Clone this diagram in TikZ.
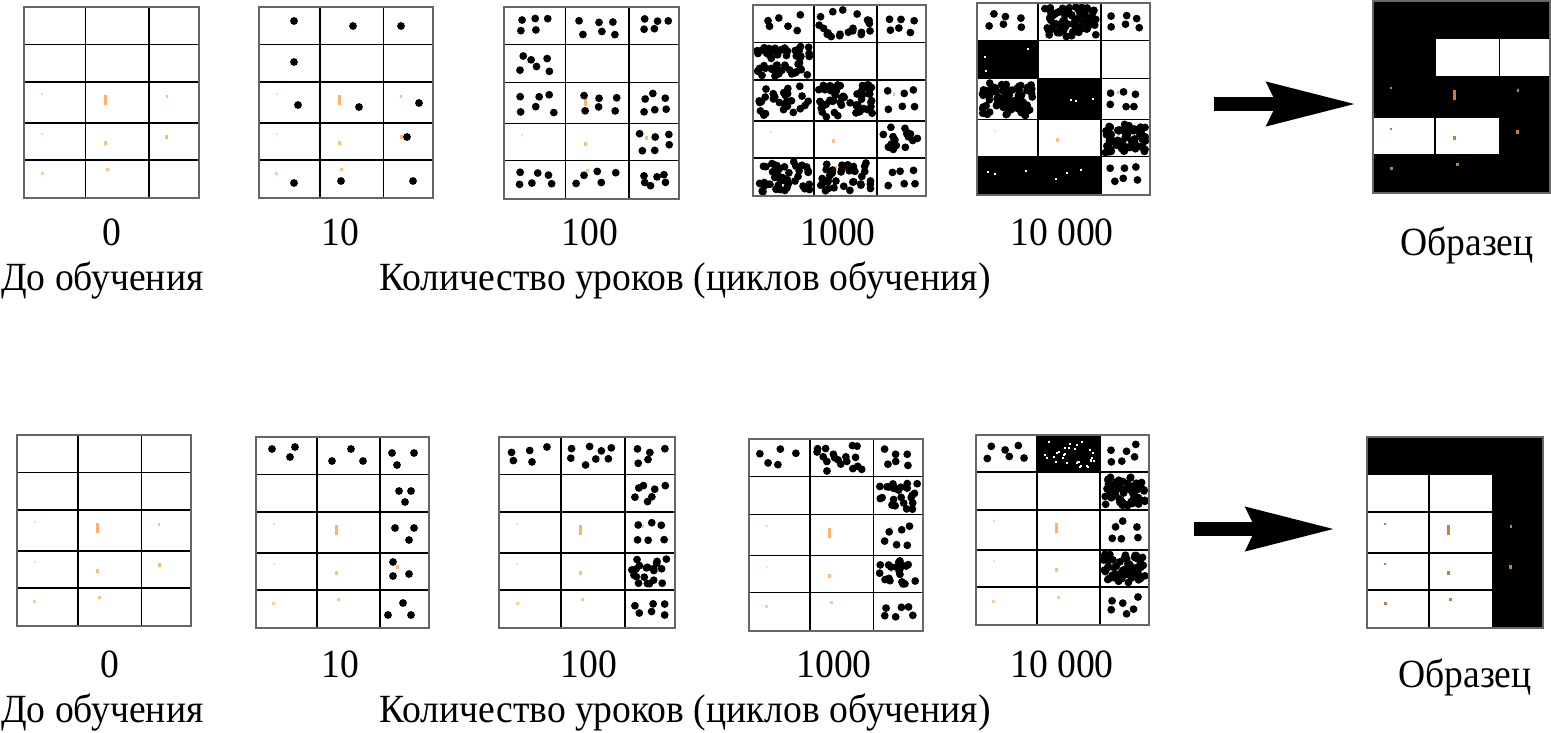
\documentclass[tikz,border=0pt]{standalone}
\usepackage{fontspec}
\setmainfont{Liberation Serif}[FakeStretch=0.94]
\usetikzlibrary{arrows.meta}

\tikzset{
  gridline/.style={black,line width=1.7pt},
  gridframe/.style={black!60,line width=2.6pt},
  lbl/.style={anchor=base,inner sep=0pt,font=\fontsize{40}{43}\selectfont},
  count/.style={lbl,text depth=0pt},
  caption/.style={lbl,text height=0.7em},
  bigarrow/.style={line width=14pt,-{Stealth[length=88pt,width=42pt,inset=9pt]}}
}

% grid origin and size, in pixels
\newcommand{\usegrid}[4]{\def\gx{#1}\def\gy{#2}\def\gw{#3}\def\gh{#4}}
\newcommand{\colfr}[1]{\ifcase\numexpr#1\relax 0\or 0.352\or 0.715\or 1\fi}
\newcommand{\rowfr}[1]{\ifcase\numexpr#1\relax 0\or 0.196\or 0.393\or 0.607\or 0.80\or 1\fi}
% bounds of cell (column, row)
\newcommand{\cellat}[2]{%
  \edef\fa{\colfr{#1-1}}\edef\fb{\colfr{#1}}%
  \edef\fc{\rowfr{#2-1}}\edef\fd{\rowfr{#2}}%
  \pgfmathsetmacro\xa{\gx+\gw*\fa}\pgfmathsetmacro\xb{\gx+\gw*\fb}%
  \pgfmathsetmacro\ya{\gy+\gh*\fc}\pgfmathsetmacro\yb{\gy+\gh*\fd}}
% n dots in the current cell, margin m (dense clusters)
\newcommand{\scatter}[2]{%
  \foreach \k in {1,...,#1}{%
    \pgfmathsetmacro\px{(\xa+\xb)/2+rand*((\xb-\xa)/2-#2)}%
    \pgfmathsetmacro\py{(\ya+\yb)/2+rand*((\yb-\ya)/2-#2)}%
    \fill (\px,\py) circle[radius=3.9pt];}}
% n dots on a jittered two-row layout (sparse cells)
\newcommand{\spread}[1]{%
  \pgfmathsetmacro\nc{ceil(#1/2)}%
  \foreach \k in {1,...,#1}{%
    \pgfmathsetmacro\px{\xa+7+(floor((\k-1)/2)+0.5+0.3*rand)*(\xb-\xa-14)/\nc}%
    \pgfmathsetmacro\py{\ya+7+(mod(\k-1,2)+0.5+0.3*rand)*(\yb-\ya-14)/2}%
    \fill (\px,\py) circle[radius=3.9pt];}}
\newcommand{\blackcell}{\fill (\xa,\ya) rectangle (\xb,\yb);}
\newcommand{\holes}[1]{%
  \foreach \k in {1,...,#1}{%
    \pgfmathsetmacro\px{(\xa+\xb)/2+rand*((\xb-\xa)/2-6)}%
    \pgfmathsetmacro\py{(\ya+\yb)/2+rand*((\yb-\ya)/2-6)}%
    \fill[white] (\px,\py) rectangle ++(2,2);}}
% faint input marks
\newcommand{\specks}[1][white]{%
  \foreach \fx/\fy/\sw/\sh/\op in {0.103/0.455/2/2/30,0.463/0.487/3/10/60,0.817/0.466/2/3/50,
      0.103/0.665/2/2/25,0.463/0.712/3/4/50,0.817/0.68/3/4/55,0.103/0.874/3/3/40,0.475/0.853/3/3/45}
    \fill[orange!\op!#1] ({\gx+\gw*\fx-\sw/2},{\gy+\gh*\fy-\sh/2}) rectangle ++(\sw,\sh);}
\newcommand{\gridlines}{%
  \foreach \f in {0.352,0.715} \draw[gridline] ({\gx+\gw*\f},\gy) -- ++(0,\gh);
  \foreach \f in {0.196,0.393,0.607,0.80} \draw[gridline] (\gx,{\gy+\gh*\f}) -- ++(\gw,0);
  \draw[gridframe] (\gx,\gy) rectangle ++(\gw,\gh);}

\begin{document}
\begin{tikzpicture}[x=1pt,y=-1pt]
\useasboundingbox (0,0) rectangle (1551,732);
\pgfmathsetseed{11}

%% top row
\usegrid{24}{7}{175}{191}
\specks \gridlines

\usegrid{259}{7}{174}{191}
\specks
\foreach \p in {(294,21),(353,26),(401,26),(294,62),(298,105),(359,107),(419,103),(407,137),(294,183),(341,181),(413,181)}
  \fill \p circle[radius=3.9pt];
\gridlines

\usegrid{504}{7}{175}{192}
\specks
\foreach \c/\r/\n in {1/1/5,2/1/6,3/1/5,1/2/6,1/3/6,2/3/6,3/3/6,3/4/6,1/5/6,2/5/5,3/5/6}
  {\cellat{\c}{\r}\spread{\n}}
\gridlines

\usegrid{753}{5}{173}{191}
\specks
\foreach \c/\r/\n in {1/1/6,3/1/6,3/3/6,3/5/6}
  {\cellat{\c}{\r}\spread{\n}}
\foreach \c/\r/\n/\m in {2/1/20/5,1/2/55/4,1/3/28/5,2/3/55/4,3/4/18/6,1/5/50/4,2/5/36/5}
  {\cellat{\c}{\r}\scatter{\n}{\m}}
\gridlines

\usegrid{977}{3}{173}{192}
\specks
\foreach \c/\r in {1/2,2/3,1/5,2/5} {\cellat{\c}{\r}\blackcell\holes{3}}
\foreach \c/\r/\n in {1/1/6,3/1/6,3/3/6,3/5/6}
  {\cellat{\c}{\r}\spread{\n}}
\foreach \c/\r/\n/\m in {2/1/80/4,1/3/80/4,3/4/70/4}
  {\cellat{\c}{\r}\scatter{\n}{\m}}
\gridlines

\usegrid{1373}{1}{177}{192}
\fill (\gx,\gy) rectangle ++(\gw,\gh);
\foreach \c/\r in {2/2,3/2,1/4,2/4} {\cellat{\c}{\r}\fill[white] (\xa,\ya) rectangle (\xb,\yb);}
\specks[gray] \gridlines

\coordinate (arrow-top-from) at (1214,104);
\coordinate (arrow-top-to) at (1356,104);
\draw[bigarrow] (arrow-top-from) -- (arrow-top-to);

\node[count] (top-n0) at (112,245) {0};
\node[count] (top-n10) at (340,245) {10};
\node[count] (top-n100) at (590,245) {100};
\node[count] (top-n1000) at (838,245) {1000};
\node[count] (top-n10000) at (1062,245) {10 000};
\node[lbl] (top-sample) at (1467,255) {Образец};
\node[caption,anchor=base west] (top-before) at (1,290) {До обучения};
\node[caption] (top-lessons) at (685,290) {Количество уроков (циклов обучения)};

%% bottom row
\usegrid{17}{435}{174}{191}
\specks \gridlines

\usegrid{256}{437}{173}{191}
\specks
\foreach \p in {(272,449),(295,447),(290,457),(351,449),(332,461),(363,461),(392,453),(414,453),(397,465),
    (399,491),(411,491),(405,502),(395,528),(414,528),(409,540),(393,562),(393,576),(409,574),(403,603),(388,615),(411,615)}
  \fill \p circle[radius=3.9pt];
\gridlines

\usegrid{499}{437}{176}{191}
\specks
\foreach \c/\r/\n in {1/1/5,2/1/8,3/1/5,3/2/7,3/3/6,3/5/6}
  {\cellat{\c}{\r}\spread{\n}}
\cellat{3}{4}\scatter{20}{6}
\gridlines

\usegrid{749}{439}{174}{192}
\specks
\foreach \c/\r/\n in {1/1/5,3/1/6,3/3/6,3/5/6}
  {\cellat{\c}{\r}\spread{\n}}
\foreach \c/\r/\n/\m in {2/1/18/5,3/2/24/5,3/4/20/5}
  {\cellat{\c}{\r}\scatter{\n}{\m}}
\gridlines

\usegrid{976}{435}{173}{190}
\specks
\cellat{2}{1}\blackcell\holes{30}
\foreach \c/\r/\n in {1/1/6,3/1/6,3/3/6,3/5/6}
  {\cellat{\c}{\r}\spread{\n}}
\foreach \c/\r/\n/\m in {3/2/65/4,3/4/65/4}
  {\cellat{\c}{\r}\scatter{\n}{\m}}
\gridlines

\usegrid{1367}{437}{176}{191}
\specks
\fill (\gx,\gy) rectangle ++(\gw,{\gh*0.196});
\fill ({\gx+\gw*0.715},\gy) rectangle ++({\gw*0.285},\gh);
\specks[gray] \gridlines

\coordinate (arrow-bottom-from) at (1194,529);
\coordinate (arrow-bottom-to) at (1335,529);
\draw[bigarrow] (arrow-bottom-from) -- (arrow-bottom-to);

\node[count] (bottom-n0) at (110,677) {0};
\node[count] (bottom-n10) at (340,677) {10};
\node[count] (bottom-n100) at (589,677) {100};
\node[count] (bottom-n1000) at (834,677) {1000};
\node[count] (bottom-n10000) at (1062,677) {10 000};
\node[lbl] (bottom-sample) at (1465,687) {Образец};
\node[caption,anchor=base west] (bottom-before) at (1,722) {До обучения};
\node[caption] (bottom-lessons) at (685,722) {Количество уроков (циклов обучения)};
\end{tikzpicture}
\end{document}
